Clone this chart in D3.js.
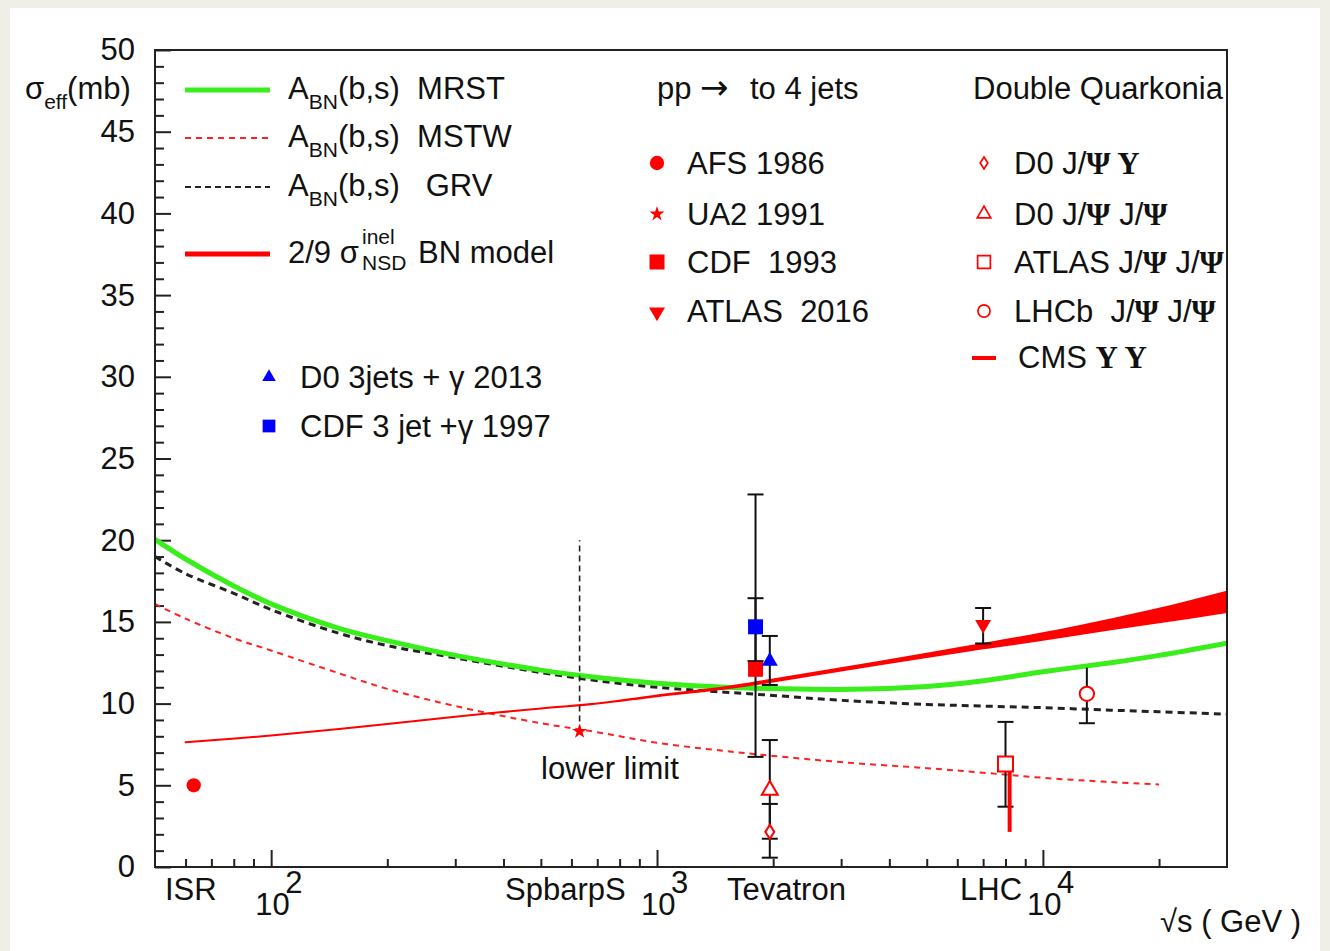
<!DOCTYPE html>
<html>
<head>
<meta charset="utf-8">
<script src="https://cdn.jsdelivr.net/npm/d3@7"></script>
<style>
  body { margin: 0; background: #efefe7; }
  svg { display: block; }
  text { font-family: "Liberation Sans", Arial, sans-serif; fill: #111; white-space: pre; }
  .greek { font-family: "Liberation Serif", serif; font-weight: bold; }
  .arrow { font-family: "DejaVu Sans", sans-serif; }
</style>
</head>
<body>
<svg id="chart" width="1330" height="951"></svg>
<script>
// curves: sqrt(s) in GeV, sigma_eff in mb
var energies = [50, 60, 80, 100, 150, 200, 300, 500, 700, 1000, 1500, 2000, 3000, 5000, 7000, 10000, 15000, 20000, 30000];
var mrst = [20.05, 18.85, 17.2, 16.1, 14.6, 13.85, 12.95, 12.05, 11.6, 11.25, 11.0, 10.92, 10.87, 11.05, 11.4, 11.95, 12.5, 12.95, 13.7];
var grv  = [19.0, 17.95, 16.75, 15.75, 14.3, 13.55, 12.8, 11.9, 11.4, 11.0, 10.7, 10.5, 10.2, 9.95, 9.85, 9.75, 9.6, 9.5, 9.35];
var mstwEnergies = [50, 60, 80, 100, 150, 200, 300, 500, 700, 1000, 1500, 2000, 3000, 5000, 7000, 10000, 15000, 20000];
var mstw = [16.1, 15.2, 14.0, 13.25, 11.85, 10.9, 9.85, 8.8, 8.25, 7.6, 7.1, 6.8, 6.42, 6.05, 5.77, 5.46, 5.2, 5.05];
var bnEnergies = [60, 100, 150, 200, 300, 500, 700, 1000, 1500, 2000, 3000, 5000, 7000, 10000, 15000, 20000, 30000];
var bnLow  = [7.63, 8.05, 8.45, 8.75, 9.2, 9.7, 10.0, 10.45, 10.92, 11.35, 12.03, 12.85, 13.38, 13.9, 14.55, 14.98, 15.6];
var bnHigh = [7.63, 8.05, 8.45, 8.75, 9.2, 9.7, 10.0, 10.5, 11.0, 11.48, 12.17, 13.05, 13.65, 14.3, 15.15, 15.8, 16.85];

// pp -> 4 jets
var jetNames = ["AFS 1986", "UA2 1991", "CDF  1993", "ATLAS  2016"];
var jetE  = [63, 630, 1800, 7000];
var jetS  = [5.0, 8.3, 12.1, 14.9];
var jetLo = [null, null, 6.74, 13.68];
var jetHi = [null, null, 22.8, 15.85];
var ua2LimitTop = 20;

// 3 jets + gamma
var gamNames = ["D0 3jets + \u03b3 2013", "CDF 3 jet +\u03b3 1997"];
var gamE  = [1960, 1800];
var gamS  = [12.6, 14.7];
var gamLo = [11.14, 12.6];
var gamHi = [14.14, 16.45];

// double quarkonia
var quarkE  = [1960, 1960, 8000, 13000];
var quarkS  = [2.15, 4.7, 6.3, 10.6];
var quarkLo = [0.57, 1.73, 3.69, 8.8];
var quarkHi = [3.86, 7.77, 8.88, 12.2];
var quarkTopCap = [true, true, true, false];
var cmsE = 8200, cmsLo = 2.15, cmsHi = 6.2;

var yMajor = d3.range(0, 51, 5);
var yMinor = d3.range(0, 51).filter(function (v) { return v % 5 !== 0; });
var xMajor = [100, 1000, 10000];
var xMinor = [60, 70, 80, 90, 200, 300, 400, 500, 600, 700, 800, 900,
              2000, 3000, 4000, 5000, 6000, 7000, 8000, 9000, 20000];
var xNames = [["ISR", 165], ["SpbarpS", 505], ["Tevatron", 727], ["LHC", 960]];

var svg = d3.select("#chart");
svg.append("rect").attr("x", 10).attr("y", 8).attr("width", 1310).attr("height", 943).attr("fill", "#fff");

var x = d3.scaleLog().domain([50, 30000]).range([155, 1227]);
var y = d3.scaleLinear().domain([0, 50]).range([867, 50]);

svg.append("clipPath").attr("id", "plot")
  .append("rect").attr("x", 155).attr("y", 50).attr("width", 1072).attr("height", 817);
svg.append("clipPath").attr("id", "inside")
  .append("rect").attr("x", 0).attr("y", 0).attr("width", 1228).attr("height", 951);

// axes
function styleAxis(g) {
  g.select(".domain").remove();
  g.selectAll("line").attr("stroke", "#222").attr("stroke-width", 2);
  g.selectAll("text").style("font-size", "31px").attr("fill", "#111")
    .style("font-family", "'Liberation Sans', Arial, sans-serif");
}
svg.append("g").attr("transform", "translate(155,0)")
  .call(d3.axisLeft(y).tickValues(yMajor).tickSize(-16).tickPadding(20))
  .call(styleAxis);
svg.append("g").attr("transform", "translate(155,0)")
  .call(d3.axisLeft(y).tickValues(yMinor).tickSize(-9).tickFormat(""))
  .call(styleAxis);
svg.append("g").attr("transform", "translate(0,867)")
  .call(d3.axisBottom(x).tickValues(xMajor).tickSize(-17).tickFormat(""))
  .call(styleAxis);
svg.append("g").attr("transform", "translate(0,867)")
  .call(d3.axisBottom(x).tickValues(xMinor).tickSize(-8).tickFormat(""))
  .call(styleAxis);

// curves
var plot = svg.append("g").attr("clip-path", "url(#plot)");
var smooth = d3.curveCatmullRom.alpha(0.5);
function curve(xs, ys) {
  return d3.line().curve(smooth)
    .x(function (d, i) { return x(xs[i]); })
    .y(function (d) { return y(d); })(ys);
}
plot.append("path").attr("d", curve(mstwEnergies, mstw))
  .attr("fill", "none").attr("stroke", "#ff2020").attr("stroke-width", 2).attr("stroke-dasharray", "6,5");
plot.append("path").attr("d", curve(energies, grv))
  .attr("fill", "none").attr("stroke", "#222").attr("stroke-width", 3).attr("stroke-dasharray", "7,5");
plot.append("path").attr("d", curve(energies, mrst))
  .attr("fill", "none").attr("stroke", "#3aee1c").attr("stroke-width", 5);
var band = d3.area().curve(smooth)
  .x(function (d, i) { return x(bnEnergies[i]); })
  .y0(function (d, i) { return y(bnLow[i]); })
  .y1(function (d) { return y(d); });
plot.append("path").attr("d", band(bnHigh))
  .attr("fill", "#ff0000").attr("stroke", "#ff0000").attr("stroke-width", 2).attr("stroke-linejoin", "round");

// UA2 lower limit
plot.append("line")
  .attr("x1", x(jetE[1])).attr("x2", x(jetE[1]))
  .attr("y1", y(jetS[1])).attr("y2", y(ua2LimitTop))
  .attr("stroke", "#222").attr("stroke-width", 1.6).attr("stroke-dasharray", "6,4");

// error bars
function errBar(g, e, lo, hi, topCap) {
  var cx = x(e);
  g.append("line").attr("x1", cx).attr("x2", cx).attr("y1", y(lo)).attr("y2", y(hi))
    .attr("stroke", "#111").attr("stroke-width", 2);
  g.append("line").attr("x1", cx - 8).attr("x2", cx + 8).attr("y1", y(lo)).attr("y2", y(lo))
    .attr("stroke", "#111").attr("stroke-width", 2);
  if (topCap !== false) {
    g.append("line").attr("x1", cx - 8).attr("x2", cx + 8).attr("y1", y(hi)).attr("y2", y(hi))
      .attr("stroke", "#111").attr("stroke-width", 2);
  }
}
var bars = svg.append("g");
jetE.forEach(function (e, i) { if (jetLo[i] != null) errBar(bars, e, jetLo[i], jetHi[i]); });
gamE.forEach(function (e, i) { errBar(bars, e, gamLo[i], gamHi[i]); });
quarkE.forEach(function (e, i) { errBar(bars, e, quarkLo[i], quarkHi[i], quarkTopCap[i]); });
svg.append("line").attr("x1", x(cmsE)).attr("x2", x(cmsE)).attr("y1", y(cmsLo)).attr("y2", y(cmsHi))
  .attr("stroke", "#ff0000").attr("stroke-width", 4);

// marker shapes
var sym = {
  circle: d3.symbol(d3.symbolCircle, 160)(),
  star: d3.symbol(d3.symbolStar, 70)(),
  square: d3.symbol(d3.symbolSquare, 225)(),
  tri: d3.symbol(d3.symbolTriangle, 110)(),
  diamond: "M0,-7L4.5,0L0,7L-4.5,0Z"
};
function marker(g, shape, cx, cy, color, open, rot) {
  return g.append("path").attr("d", sym[shape])
    .attr("transform", "translate(" + cx + "," + cy + ")" + (rot ? " rotate(180)" : ""))
    .attr("fill", open ? "#fff" : color)
    .attr("stroke", color).attr("stroke-width", open ? 2 : 0);
}
var jetShapes = [["circle", false], ["star", false], ["square", false], ["tri", true]];
var quarkShapes = ["diamond", "tri", "square", "circle"];
var marks = svg.append("g");
jetE.forEach(function (e, i) {
  marker(marks, jetShapes[i][0], x(e), y(jetS[i]) + (jetShapes[i][1] ? 1 : 0), "#ff0000", false, jetShapes[i][1]);
});
gamE.forEach(function (e, i) {
  marker(marks, i === 0 ? "tri" : "square", x(e), y(gamS[i]), "#0000ff", false);
});
quarkE.forEach(function (e, i) {
  marker(marks, quarkShapes[i], x(e), y(quarkS[i]), "#ff0000", true);
});

// frame
svg.append("rect").attr("x", 155).attr("y", 50).attr("width", 1072).attr("height", 817)
  .attr("fill", "none").attr("stroke", "#222").attr("stroke-width", 2);

// rich text helper
function rich(parent, x0, yb, parts) {
  var t = parent.append("text").attr("x", x0).attr("y", yb).style("font-size", "31px");
  var cur = 0;
  parts.forEach(function (p) {
    var off = p.off || 0;
    var ts = t.append("tspan").text(p.t).attr("dy", off - cur);
    cur = off;
    if (p.x != null) ts.attr("x", p.x);
    if (p.size) ts.style("font-size", p.size + "px");
    if (p.cls) ts.attr("class", p.cls);
  });
  return t;
}
var SUB = 10, SUP = -19, SMALL = 21;

// axis titles
rich(svg, 25, 99, [{ t: "\u03c3" }, { t: "eff", off: SUB, size: SMALL }, { t: "(mb)" }]);
rich(svg, 1160, 932, [{ t: "\u221as ( GeV )" }]);
xNames.forEach(function (n) { rich(svg, n[1], 900, [{ t: n[0] }]); });
xMajor.forEach(function (v) {
  var cx = x(v);
  rich(svg, cx - 16, 915, [{ t: "10" }, { t: String(Math.round(Math.log10(v))), x: cx + 14, off: -22 }]);
});
rich(svg, 541, 779, [{ t: "lower limit" }]);

// left legend
var leg = svg.append("g");
var curveLeg = [
  { y: 90, color: "#3aee1c", w: 5, dash: null, label: "  MRST" },
  { y: 138, color: "#ff2020", w: 2, dash: "6,5", label: "  MSTW" },
  { y: 187, color: "#222", w: 2, dash: "6,4", label: "   GRV" }
];
curveLeg.forEach(function (c) {
  leg.append("line").attr("x1", 185).attr("x2", 270).attr("y1", c.y).attr("y2", c.y)
    .attr("stroke", c.color).attr("stroke-width", c.w).attr("stroke-dasharray", c.dash);
  rich(leg, 288, c.y + 9, [{ t: "A" }, { t: "BN", off: SUB, size: SMALL }, { t: "(b,s)" + c.label }]);
});
leg.append("line").attr("x1", 185).attr("x2", 270).attr("y1", 254).attr("y2", 254)
  .attr("stroke", "#ff0000").attr("stroke-width", 5);
rich(leg, 288, 263, [{ t: "2/9 \u03c3" }, { t: "inel", x: 362, off: SUP, size: SMALL },
  { t: "NSD", x: 362, off: 7, size: SMALL }, { t: "BN model", x: 418 }]);

// blue legend
gamNames.forEach(function (n, i) {
  marker(leg, i === 0 ? "tri" : "square", 269, 377 + i * 49, "#0000ff", false)
    .attr("transform", "translate(269," + (377 + i * 49) + ") scale(0.85)");
  rich(leg, 300, 388 + i * 49, [{ t: n }]);
});

// 4 jets legend
rich(leg, 657, 99, [{ t: "pp" }, { t: "\u2192", x: 700, cls: "arrow", size: 34 }, { t: "to 4 jets", x: 750 }]);
var rowY = [163, 214, 262, 311];
jetNames.forEach(function (n, i) {
  marker(leg, jetShapes[i][0], 657, rowY[i] + (jetShapes[i][1] ? 1 : 0), "#ff0000", false, jetShapes[i][1]);
  rich(leg, 687, rowY[i] + 11, [{ t: n }]);
});

// quarkonia legend
var qleg = leg.append("g").attr("clip-path", "url(#inside)");
rich(qleg, 973, 99, [{ t: "Double Quarkonia" }]);
var psi = "\u03a8", ups = "\u03a5";
var quarkLabels = [
  [{ t: "D0 J/" }, { t: psi + " " + ups, cls: "greek" }],
  [{ t: "D0 J/" }, { t: psi, cls: "greek" }, { t: " J/" }, { t: psi, cls: "greek" }],
  [{ t: "ATLAS J/" }, { t: psi, cls: "greek" }, { t: " J/" }, { t: psi, cls: "greek" }],
  [{ t: "LHCb  J/" }, { t: psi, cls: "greek" }, { t: " J/" }, { t: psi, cls: "greek" }]
];
quarkLabels.forEach(function (parts, i) {
  marker(qleg, quarkShapes[i], 984, rowY[i], "#ff0000", true)
    .attr("transform", "translate(984," + rowY[i] + ") scale(0.85)");
  rich(qleg, 1014, rowY[i] + 11, parts);
});
qleg.append("line").attr("x1", 972).attr("x2", 996).attr("y1", 358).attr("y2", 358)
  .attr("stroke", "#ff0000").attr("stroke-width", 4);
rich(qleg, 1018, 368, [{ t: "CMS " }, { t: ups + " " + ups, cls: "greek" }]);
</script>
</body>
</html>
